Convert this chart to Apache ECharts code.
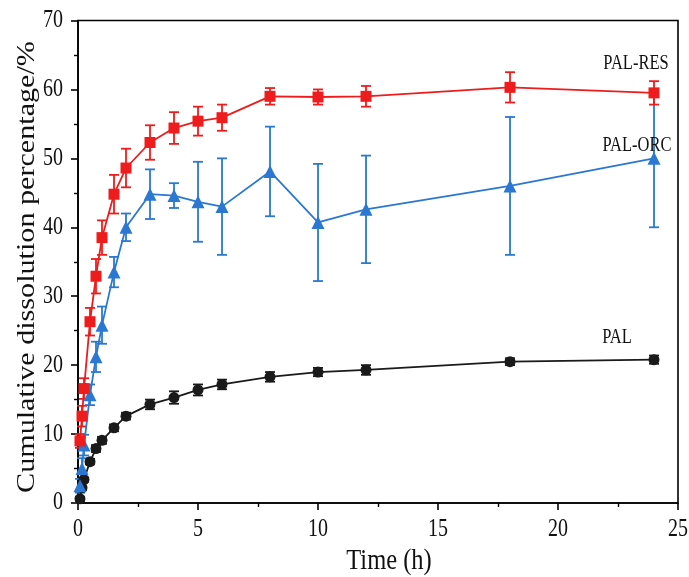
<!DOCTYPE html>
<html>
<head>
<meta charset="utf-8">
<script src="https://cdn.jsdelivr.net/npm/echarts@6/dist/echarts.min.js"></script>
<style>
html,body{margin:0;padding:0;background:#fff;}
#c{width:689px;height:577px;}
</style>
</head>
<body>
<div id="c"></div>
<script>
// Time points (h)
var times = [0.083, 0.167, 0.25, 0.5, 0.75, 1, 1.5, 2, 3, 4, 5, 6, 8, 10, 12, 18, 24];
// PAL-RES
var resMean = [9.0, 12.6, 16.6, 26.3, 32.9, 38.5, 44.8, 48.6, 52.3, 54.4, 55.4, 55.9, 59.0, 58.9, 59.0, 60.3, 59.5];
var resErr  = [1.0, 1.5, 1.5, 2.0, 2.5, 2.5, 2.8, 2.8, 2.5, 2.3, 2.1, 1.9, 1.2, 1.1, 1.5, 2.2, 1.7];
// PAL-ORC
var orcMean = [2.5, 5.0, 8.4, 15.7, 21.2, 25.8, 33.5, 40.0, 44.8, 44.6, 43.7, 43.0, 48.1, 40.7, 42.6, 46.0, 50.0];
var orcErr  = [1.0, 1.5, 1.5, 1.5, 2.2, 2.7, 2.2, 2.0, 3.6, 1.8, 5.8, 7.0, 6.5, 8.5, 7.8, 10.0, 10.0];
// PAL
var palMean = [0.6, 2.2, 3.4, 6.0, 7.9, 9.1, 10.9, 12.6, 14.3, 15.3, 16.4, 17.2, 18.3, 19.0, 19.3, 20.5, 20.8];
var palErr  = [0.3, 0.3, 0.3, 0.4, 0.5, 0.5, 0.5, 0.5, 0.7, 0.9, 0.8, 0.7, 0.7, 0.6, 0.7, 0.5, 0.6];

var seriesNames = ['PAL-RES', 'PAL-ORC', 'PAL'];
var xTickLabels = [0, 5, 10, 15, 20, 25];
var yTickLabels = [0, 10, 20, 30, 40, 50, 60, 70];
var xTitle = 'Time (h)';
var yTitle = 'Cumulative dissolution percentage/%';

var RED = '#ee1c1c', BLUE = '#2a78d2', BLACK = '#1a1a1a';
var FONT = '"Liberation Serif", "Times New Roman", serif';
var SY = 1.23; // vertical stretch of the text in the reference

function pairs(m) { return times.map(function (t, i) { return [t, m[i]]; }); }
function errData(m, e) { return times.map(function (t, i) { return [t, m[i] - e[i], m[i] + e[i]]; }); }

function errSeries(m, e, color) {
  return {
    type: 'custom',
    data: errData(m, e),
    z: 2,
    silent: true,
    renderItem: function (params, api) {
      var x = api.value(0);
      var lo = api.coord([x, api.value(1)]);
      var hi = api.coord([x, api.value(2)]);
      var w = 5;
      var st = { stroke: color, lineWidth: 1.8 };
      return {
        type: 'group',
        children: [
          { type: 'line', shape: { x1: lo[0], y1: lo[1], x2: hi[0], y2: hi[1] }, style: st },
          { type: 'line', shape: { x1: lo[0] - w, y1: lo[1], x2: lo[0] + w, y2: lo[1] }, style: st },
          { type: 'line', shape: { x1: hi[0] - w, y1: hi[1], x2: hi[0] + w, y2: hi[1] }, style: st }
        ]
      };
    },
    encode: { x: 0, y: [1, 2] }
  };
}

function lineSeries(name, m, color, symbol, size) {
  return {
    name: name,
    type: 'line',
    data: pairs(m),
    z: 3,
    symbol: symbol,
    symbolSize: size,
    showAllSymbol: true,
    lineStyle: { color: color, width: 1.8 },
    itemStyle: { color: color, borderWidth: 0 },
    animation: false
  };
}

function txt(text, x, y, size, opts) {
  opts = opts || {};
  return {
    type: 'text', x: x, y: y,
    rotation: opts.rotation || 0,
    scaleX: opts.scaleX || 1, scaleY: opts.scaleY || 1,
    silent: true, z: 10,
    style: { text: String(text), font: size + 'px ' + FONT, fill: '#111',
             align: opts.align || 'center', verticalAlign: 'middle' }
  };
}

var chart = echarts.init(document.getElementById('c'), null, { renderer: 'canvas' });
var axisCommon = {
  axisLine: { show: true, lineStyle: { color: '#000', width: 1.6 } },
  axisTick: { show: true, inside: false, length: 7, lineStyle: { color: '#000', width: 1.6 } },
  minorTick: { show: true, splitNumber: 2, length: 4, lineStyle: { color: '#000', width: 1.4 } },
  axisLabel: { show: false },
  splitLine: { show: false }
};
chart.setOption({
  animation: false,
  backgroundColor: '#fff',
  grid: { left: 78, right: 11, top: 20.5, bottom: 74, show: true, borderColor: '#000', borderWidth: 1.6, backgroundColor: 'transparent' },
  xAxis: Object.assign({ type: 'value', min: 0, max: 25, interval: 5 }, axisCommon),
  yAxis: Object.assign({ type: 'value', min: 0, max: 70, interval: 10 }, axisCommon),
  series: [
    errSeries(palMean, palErr, BLACK),
    lineSeries(seriesNames[2], palMean, BLACK, 'circle', 11),
    errSeries(orcMean, orcErr, BLUE),
    lineSeries(seriesNames[1], orcMean, BLUE, 'triangle', 13),
    errSeries(resMean, resErr, RED),
    lineSeries(seriesNames[0], resMean, RED, 'rect', 11)
  ]
});

// Text layer: tick labels positioned through the axes' own scales
var g = [];
xTickLabels.forEach(function (v) {
  var p = chart.convertToPixel({ gridIndex: 0 }, [v, 0]);
  g.push(txt(v, p[0], p[1] + 27, 20, { scaleY: SY }));
});
yTickLabels.forEach(function (v) {
  var p = chart.convertToPixel({ gridIndex: 0 }, [0, v]);
  g.push(txt(v, p[0] - 15, p[1], 20, { scaleY: SY, align: 'right' }));
});
g.push(txt(xTitle, 389, 561, 24.5, { scaleY: SY }));
g.push(txt(yTitle, 28, 267, 24.5, { rotation: Math.PI / 2, scaleX: SY }));
// series labels
g.push(txt(seriesNames[0], 636, 64, 16.5, { scaleY: SY }));
g.push(txt(seriesNames[1], 637, 146, 16.5, { scaleY: SY }));
g.push(txt(seriesNames[2], 617, 338, 16.5, { scaleY: SY }));
chart.setOption({ graphic: g });
</script>
</body>
</html>
